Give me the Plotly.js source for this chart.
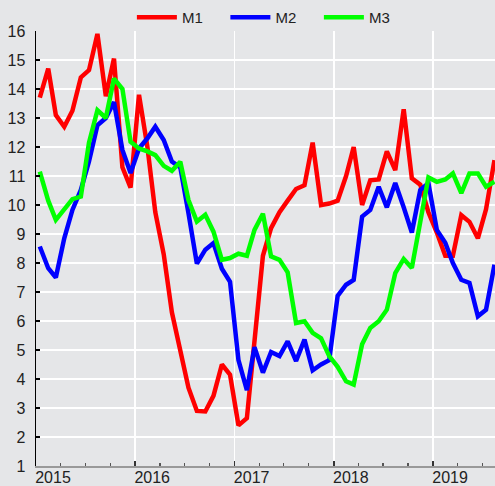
<!DOCTYPE html>
<html>
<head>
<meta charset="utf-8">
<script src="https://cdn.plot.ly/plotly-3.0.1.min.js"></script>
<style>html,body{margin:0;padding:0;background:#e5e6e8;}#chart{width:495px;height:486px;}</style>
</head>
<body>
<div id="chart"></div>
<script>
// Monthly series, Jan 2015 .. Aug 2019
var startYear = 2015;
var nMonths = 56;
var seriesNames = ['M1', 'M2', 'M3'];
var seriesColors = ['#ff0000', '#0000ff', '#00ff00'];

var m1 = [13.7, 14.7, 13.1, 12.7, 13.25, 14.4, 14.65, 15.9, 13.75, 15.05, 11.3, 10.6,
          13.8, 12.0, 9.75, 8.3, 6.3, 4.9, 3.7, 2.9, 2.88, 3.42, 4.5, 4.15,
          2.4, 2.65, 5.45, 8.25, 9.2, 9.75, 10.15, 10.55, 10.68, 12.15, 10.0, 10.05,
          10.15, 11.0, 12.0, 10.0, 10.85, 10.88, 11.85, 11.2, 13.3, 10.92, 10.7, 9.75,
          9.05, 8.25, 8.25, 9.65, 9.42, 8.85, 9.85, 11.55];
var m2 = [8.57, 7.82, 7.5, 8.85, 9.83, 10.52, 11.5, 12.75, 13.0, 13.55, 11.9, 11.1,
          11.95, 12.3, 12.7, 12.24, 11.5, 11.3, 9.72, 7.98, 8.46, 8.69, 7.8, 7.35,
          4.65, 3.62, 5.1, 4.22, 4.93, 4.79, 5.3, 4.62, 5.36, 4.3, 4.5, 4.65,
          6.87, 7.25, 7.42, 9.6, 9.83, 10.63, 9.92, 10.76, 9.92, 9.05, 10.52, 10.75,
          9.14, 8.7, 8.0, 7.42, 7.31, 6.16, 6.39, 7.94];
var m3 = [11.15, 10.15, 9.49, 9.83, 10.2, 10.29, 12.15, 13.27, 13.0, 14.36, 14.0, 12.18,
          11.95, 11.85, 11.72, 11.35, 11.18, 11.49, 10.17, 9.43, 9.66, 9.08, 8.11, 8.17,
          8.32, 8.25, 9.14, 9.7, 8.23, 8.11, 7.68, 5.93, 5.99, 5.59, 5.4, 4.79,
          4.42, 3.92, 3.81, 5.2, 5.76, 5.99, 6.39, 7.65, 8.14, 7.83, 9.35, 10.95,
          10.8, 10.88, 11.09, 10.41, 11.09, 11.09, 10.63, 10.8];

var yearTicks = ['2015-01-01', '2016-01-01', '2017-01-01', '2018-01-01', '2019-01-01'];
var yearLabels = ['2015', '2016', '2017', '2018', '2019'];

function pad(n) { return (n < 10 ? '0' : '') + n; }
var dates = [];
for (var i = 0; i < nMonths; i++) {
  var y = startYear + Math.floor(i / 12);
  var m = (i % 12) + 1;
  dates.push(y + '-' + pad(m) + '-15');
}

var values = [m1, m2, m3];
var traces = values.map(function (v, k) {
  return {
    x: dates, y: v, type: 'scatter', mode: 'lines', name: seriesNames[k],
    line: { color: seriesColors[k], width: 4.5 }
  };
});

var font = 'Liberation Sans, Arial, sans-serif';
var layout = {
  width: 495, height: 486,
  margin: { l: 36, r: 0, t: 31, b: 20, pad: 0 },
  paper_bgcolor: '#e5e6e8',
  plot_bgcolor: '#e5e6e8',
  font: { family: font, size: 16, color: '#222' },
  showlegend: true,
  legend: {
    orientation: 'h', x: 0.515, xanchor: 'center', y: 1.031, yanchor: 'middle',
    bgcolor: 'rgba(0,0,0,0)', font: { family: font, size: 15, color: '#222' },
    itemwidth: 40, entrywidth: 38.5, entrywidthmode: 'pixels', traceorder: 'normal'
  },
  xaxis: {
    type: 'date',
    range: ['2015-01-01', '2019-08-17'],
    tickmode: 'array', tickvals: yearTicks, ticktext: yearLabels,
    ticks: 'inside', ticklen: 5, tickwidth: 1.5, tickcolor: '#333',
    showgrid: true, gridcolor: '#ffffff', gridwidth: 1.5,
    showline: true, linecolor: '#999999', linewidth: 1.5,
    zeroline: false,
    tickfont: { family: font, size: 16, color: '#222' },
    ticklabelshift: 17, ticklabelstandoff: -4,
    minor: { dtick: 'M3', tick0: '2015-01-01', ticks: 'inside', ticklen: 3, tickwidth: 1.2, tickcolor: '#555', showgrid: false }
  },
  yaxis: {
    range: [1, 16], tick0: 1, dtick: 1,
    ticks: 'inside', ticklen: 4, tickwidth: 1.5, tickcolor: '#000',
    showgrid: true, gridcolor: '#ffffff', gridwidth: 1.5,
    showline: true, linecolor: '#000000', linewidth: 1.5,
    zeroline: false,
    tickfont: { family: font, size: 16, color: '#222' },
    ticklabelstandoff: 6
  }
};

Plotly.newPlot('chart', traces, layout, { displayModeBar: false, staticPlot: true });
</script>
</body>
</html>
